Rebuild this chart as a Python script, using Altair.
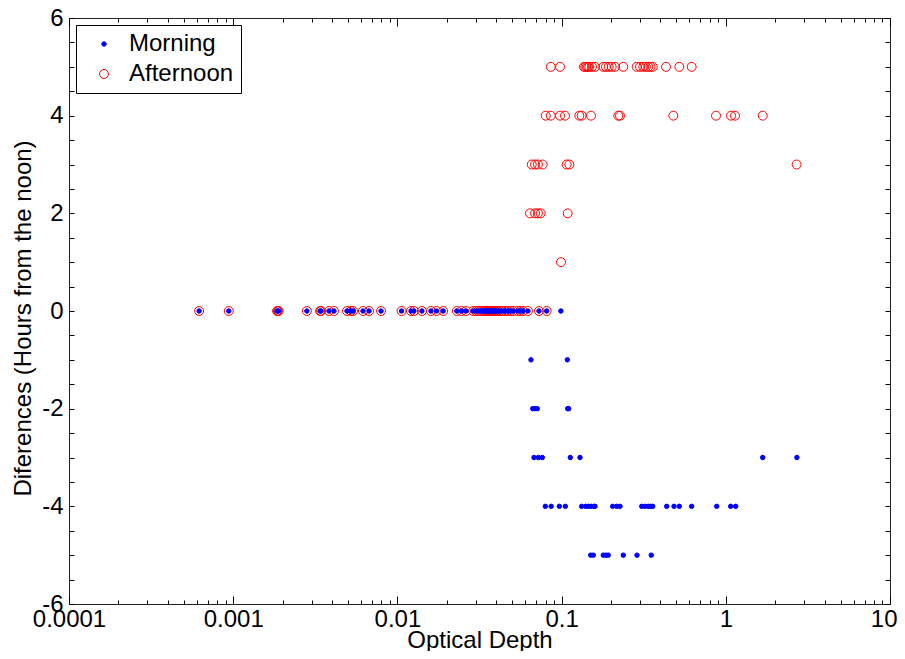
import altair as alt
import pandas as pd

# ---- data (x = optical depth, y = hours from noon) ----
series_names = ["Morning", "Afternoon"]

zero_row = [0.00062, 0.00094, 0.00185, 0.00187, 0.00189, 0.00281, 0.00338, 0.00343,
            0.00383, 0.00411, 0.00493, 0.00522, 0.00537, 0.00617, 0.00672, 0.00795,
            0.0106, 0.0121, 0.0126, 0.0141, 0.0160, 0.0173, 0.0190, 0.0230, 0.0246,
            0.0262, 0.0289, 0.0300, 0.0310, 0.0321, 0.0332, 0.0340, 0.0347, 0.0354,
            0.0361, 0.0369, 0.0377, 0.0385, 0.0393, 0.0401, 0.0410, 0.0420, 0.0432,
            0.0452, 0.0472, 0.0490, 0.0506, 0.0541, 0.0560, 0.0582, 0.0624, 0.0728,
            0.0811]
morning_zero_extra = [0.099]

aft_5 = [0.0859, 0.0978, 0.1369, 0.1395, 0.1422, 0.1450, 0.1475, 0.1532, 0.1597,
         0.1794, 0.1863, 0.1935, 0.2018, 0.2115, 0.2375, 0.2866, 0.3001, 0.3145,
         0.3260, 0.3373, 0.3480, 0.3589, 0.4323, 0.5212, 0.6196]
aft_4 = [0.0800, 0.0859, 0.0978, 0.1049, 0.1282, 0.1325, 0.1510, 0.2215, 0.2268,
         0.4790, 0.8716, 1.076, 1.138, 1.678]
aft_3 = [0.0658, 0.0689, 0.0718, 0.0767, 0.1074, 0.1114, 2.70]
aft_2 = [0.0642, 0.0689, 0.0718, 0.0746, 0.1089]
aft_1 = [0.0992]

morn_m1 = [0.0651, 0.1084]
morn_m2 = [0.0667, 0.0689, 0.0711, 0.1089, 0.1104]
morn_m3 = [0.0679, 0.0722, 0.0763, 0.1130, 0.1294, 1.678, 2.71]
morn_m4 = [0.0796, 0.0864, 0.0968, 0.1054, 0.1325, 0.1402, 0.1455, 0.1510, 0.1575,
           0.1597, 0.2047, 0.2167, 0.2268, 0.3076, 0.3221, 0.3373, 0.3490, 0.3589,
           0.4366, 0.4840, 0.5212, 0.6196, 0.8806, 1.071, 1.149]
morn_m5 = [0.1504, 0.1560, 0.1794, 0.1863, 0.1924, 0.2375, 0.2879, 0.3517]

x_major = [0.0001, 0.001, 0.01, 0.1, 1, 10]
x_minor = [m * d for d in [0.0001, 0.001, 0.01, 0.1, 1] for m in range(2, 10)]
y_labels = [-6, -4, -2, 0, 2, 4, 6]
y_ticks = [-6 + 0.5 * i for i in range(25)]

# ---- table ----
rows = []
for h, xs in [(5, aft_5), (4, aft_4), (3, aft_3), (2, aft_2), (1, aft_1), (0, zero_row)]:
    rows += [{"x": v, "y": h, "series": "Afternoon"} for v in xs]
for h, xs in [(0, zero_row + morning_zero_extra), (-1, morn_m1), (-2, morn_m2),
              (-3, morn_m3), (-4, morn_m4), (-5, morn_m5)]:
    rows += [{"x": v, "y": h, "series": "Morning"} for v in xs]
df = pd.DataFrame(rows)

W, H = 821, 586
FONT = "Liberation Sans"

xscale = alt.Scale(type="log", domain=[0.0001, 10], nice=False)
yscale = alt.Scale(domain=[-6, 6], nice=False, zero=False)

x_tick_size = {"condition": {"test": "abs(log(datum.value)/LN10 - round(log(datum.value)/LN10)) < 0.001",
                             "value": 8}, "value": 4}

base = alt.Chart(df)

ticks_a = base.mark_point(opacity=0).encode(
    x=alt.X("x:Q", scale=xscale,
            axis=alt.Axis(orient="top", offset=-H, values=sorted(x_major + x_minor),
                          labels=False, domain=False, title=None, tickSize=x_tick_size,
                          tickColor="black", tickWidth=1)),
    y=alt.Y("y:Q", scale=yscale,
            axis=alt.Axis(orient="right", offset=-W, values=y_ticks, labels=False,
                          domain=False, title=None, tickSize=5, tickColor="black",
                          tickWidth=1)),
)

ticks_b = base.mark_point(opacity=0).encode(
    x=alt.X("x:Q", scale=xscale,
            axis=alt.Axis(orient="bottom", offset=-H, values=sorted(x_major + x_minor),
                          labels=False, domain=False, title=None, tickSize=x_tick_size,
                          tickColor="black", tickWidth=1)),
    y=alt.Y("y:Q", scale=yscale,
            axis=alt.Axis(orient="left", offset=-W, values=y_ticks, labels=False,
                          domain=False, title=None, tickSize=5, tickColor="black",
                          tickWidth=1)),
)

points = base.mark_point(shape="circle", strokeWidth=1, opacity=1).encode(
    x=alt.X("x:Q", scale=xscale,
            axis=alt.Axis(orient="bottom", values=x_major, format="~g", ticks=False,
                          domain=False, labelPadding=3, labelFlush=False,
                          labelAlign={"condition": {"test": "datum.value >= 10", "value": "right"},
                                      "value": "center"},
                          labelOffset={"condition": {"test": "datum.value >= 10", "value": 7},
                                       "value": 0},
                          title="Optical Depth", titleY=43, titleBaseline="alphabetic")),
    y=alt.Y("y:Q", scale=yscale,
            axis=alt.Axis(orient="left", values=y_labels, ticks=False, domain=False,
                          labelPadding=6, labelFlush=False, labelExpr="'' + datum.value",
                          title="Diferences (Hours from the noon)", titleFontSize=24,
                          titleX=-46, titleY=300, titleBaseline="middle")),
    fill=alt.Fill("series:N", scale=alt.Scale(domain=series_names, range=["#0000ff", "transparent"]),
                  legend=alt.Legend(title=None)),
    stroke=alt.Stroke("series:N", scale=alt.Scale(domain=series_names, range=["#0000ff", "#ff0000"]),
                      legend=alt.Legend(title=None)),
    size=alt.Size("series:N", scale=alt.Scale(domain=series_names, range=[20, 80]),
                  legend=alt.Legend(title=None)),
)

chart = alt.layer(ticks_a, ticks_b, points).resolve_axis(
    x="independent", y="independent"
).properties(
    width=W, height=H, autosize="none",
    padding={"left": 61, "top": 10, "right": 7, "bottom": 47},
    background="white",
).configure_view(
    stroke="#222222", strokeWidth=1
).configure_axis(
    grid=False, labelFont=FONT, titleFont=FONT, labelFontSize=24, titleFontSize=24,
    titleFontWeight="normal", labelColor="black", titleColor="black",
).configure_legend(
    orient="top-left", offset=7, padding=7, strokeColor="black", fillColor="white",
    labelFont=FONT, labelFontSize=24, labelColor="black", symbolOffset=9,
    labelOffset=13, rowPadding=6, symbolStrokeWidth=1, cornerRadius=0,
)

chart.save("out.html", embed_options={"renderer": "svg", "actions": False})
